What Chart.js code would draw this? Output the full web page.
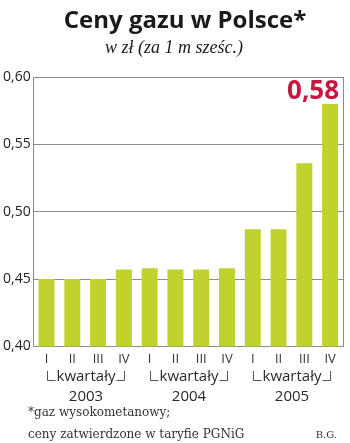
<!DOCTYPE html>
<html>
<head>
<meta charset="utf-8">
<script src="https://cdn.jsdelivr.net/npm/chart.js@4.4.1/dist/chart.umd.min.js"></script>
<style>
html, body { margin: 0; padding: 0; background: #fff; }
#wykres { display: block; }
</style>
</head>
<body>
<canvas id="wykres" width="350" height="443"></canvas>
<script>
// Dane: ceny gazu w zł za 1 m sześc., kwartalnie 2003-2005
var kwartaly = ['I', 'II', 'III', 'IV', 'I', 'II', 'III', 'IV', 'I', 'II', 'III', 'IV'];
var lata = ['2003', '2004', '2005'];
var ceny = [0.45, 0.45, 0.45, 0.457, 0.458, 0.457, 0.457, 0.458, 0.487, 0.487, 0.536, 0.58];
var osY = [0.40, 0.45, 0.50, 0.55, 0.60];

var zielony = '#c0d22e';
var szary = '#8c8c8c';
var czerwony = '#c8173f';

//Format liczby z przecinkiem
function zPrzecinkiem(v) {
    return v.toFixed(2).replace('.', ',');
}

//Plugin rysujący tytuł, podpis wartości, nawiasy "kwartały" i przypis
var opisy = {
    id: 'opisy',
    afterDraw: function(chart) {
        var ctx = chart.ctx;
        var area = chart.chartArea;
        var x = chart.scales.x;
        ctx.save();

        //Tytuł i podtytuł
        ctx.fillStyle = '#1a1a1a';
        ctx.textAlign = 'center';
        ctx.textBaseline = 'alphabetic';
        ctx.font = 'bold 24px "Open Sans"';
        ctx.fillText('Ceny gazu w Polsce*', 185, 28);
        ctx.font = 'italic 18px "Liberation Serif"';
        ctx.fillText('w zł (za 1 m sześc.)', 174, 53);

        //Prawa krawędź wykresu
        ctx.strokeStyle = szary;
        ctx.lineWidth = 1;
        ctx.beginPath();
        ctx.moveTo(Math.round(area.right) + 0.5, area.top);
        ctx.lineTo(Math.round(area.right) + 0.5, area.bottom);
        ctx.stroke();

        //Wartość ostatniego słupka
        var ost = chart.getDatasetMeta(0).data[ceny.length - 1];
        ctx.fillStyle = czerwony;
        ctx.textAlign = 'right';
        ctx.font = 'bold 26px "Open Sans"';
        ctx.fillText(zPrzecinkiem(ceny[ceny.length - 1]), ost.x + ost.width / 2 + 1, ost.y - 5);

        //Nawiasy z napisem "kwartały" i rok pod każdą grupą
        ctx.textAlign = 'center';
        for (var g = 0; g < lata.length; g++) {
            var x1 = Math.round(x.getPixelForValue(g * 4)) + 0.5;
            var x2 = Math.round(x.getPixelForValue(g * 4 + 3)) + 0.5;
            var srodek = (x1 + x2) / 2;
            ctx.font = '15px "Open Sans"';
            var w = ctx.measureText('kwartały').width;
            ctx.strokeStyle = '#555';
            ctx.beginPath();
            ctx.moveTo(x1, 371);
            ctx.lineTo(x1, 380.5);
            ctx.lineTo(srodek - w / 2 - 1, 380.5);
            ctx.moveTo(srodek + w / 2 + 1, 380.5);
            ctx.lineTo(x2, 380.5);
            ctx.lineTo(x2, 371);
            ctx.stroke();
            ctx.fillStyle = '#2a2a2a';
            ctx.fillText('kwartały', srodek, 381);
            ctx.fillText(lata[g], srodek, 401);
        }

        //Przypis i autor
        ctx.textAlign = 'left';
        ctx.fillStyle = '#333';
        ctx.font = '12px "DejaVu Serif"';
        ctx.fillText('*gaz wysokometanowy;', 28, 416);
        ctx.fillText('ceny zatwierdzone w taryfie PGNiG', 28, 438);
        ctx.textAlign = 'right';
        ctx.font = '10px "DejaVu Serif"';
        ctx.fillText('B.G.', 337, 438);
        ctx.restore();
    }
};

var ctx = document.getElementById('wykres').getContext('2d');
window.wykres = new Chart(ctx, {
    type: 'bar',
    data: {
        labels: kwartaly,
        datasets: [{
            data: ceny,
            backgroundColor: zielony,
            borderWidth: 0,
            barPercentage: 0.62,
            categoryPercentage: 1
        }]
    },
    options: {
        responsive: false,
        animation: false,
        layout: {
            padding: { top: 77, right: 7, bottom: 71, left: 0 }
        },
        plugins: {
            legend: { display: false },
            tooltip: { enabled: false }
        },
        scales: {
            x: {
                grid: { display: false, drawTicks: false },
                border: { display: true, color: szary },
                ticks: {
                    color: '#333',
                    font: { family: 'Open Sans', size: 13 },
                    padding: 5,
                    maxRotation: 0,
                    autoSkip: false
                }
            },
            y: {
                min: 0.40,
                max: 0.60,
                afterBuildTicks: function(axis) {
                    axis.ticks = osY.map(function(v) { return { value: v }; });
                },
                grid: { color: szary, drawTicks: false },
                border: { color: szary },
                ticks: {
                    color: '#222',
                    padding: 3,
                    font: { family: 'Open Sans', size: 14 },
                    callback: function(v) { return zPrzecinkiem(v); }
                }
            }
        }
    },
    plugins: [opisy]
});
</script>
</body>
</html>
